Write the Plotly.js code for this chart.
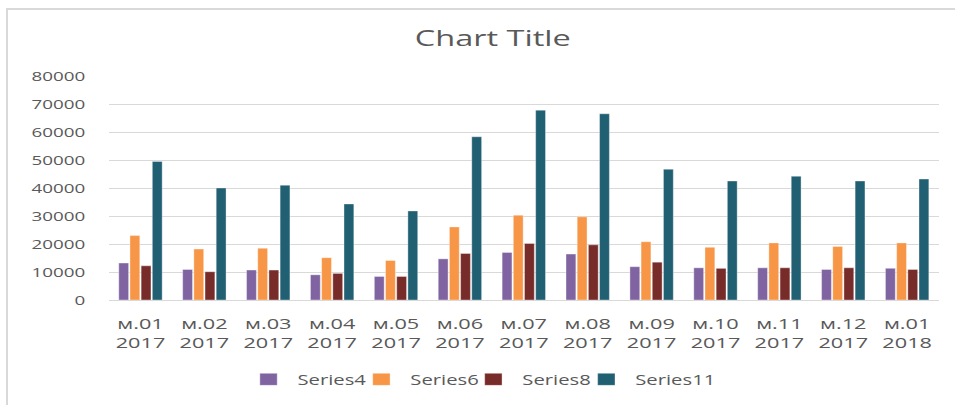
<!DOCTYPE html>
<html>
<head>
<meta charset="utf-8">
<script src="https://cdn.plot.ly/plotly-3.0.1.min.js"></script>
<style>
  html, body { margin: 0; padding: 0; background: #fff; overflow: hidden; }
  #wrap { width: 955px; height: 405px; position: absolute; left: 0; top: 0; overflow: hidden; }
  /* the reference chart is horizontally stretched; reproduce by scaling a narrower plot */
  #chart { width: 660px; height: 405px; position: absolute; left: 0; top: 0;
           transform: scaleX(1.447); transform-origin: 0 0; }
  #frame { position: absolute; left: 6px; top: 8px; width: 960px; height: 410px;
           border-left: 2px solid #d9d9d9; border-top: 2px solid #d9d9d9; pointer-events: none; }
</style>
</head>
<body>
<div id="wrap">
  <div id="chart"></div>
  <div id="frame"></div>
</div>
<script>
const categories = ["м.01<br>2017","м.02<br>2017","м.03<br>2017","м.04<br>2017","м.05<br>2017","м.06<br>2017","м.07<br>2017","м.08<br>2017","м.09<br>2017","м.10<br>2017","м.11<br>2017","м.12<br>2017","м.01<br>2018"];
const series4  = [13200, 10900, 10700, 9000, 8400, 14700, 17000, 16400, 11900, 11500, 11500, 10900, 11300];
const series6  = [23000, 18200, 18500, 15100, 14100, 26100, 30300, 29700, 20800, 18800, 20400, 19100, 20400];
const series8  = [12200, 10100, 10700, 9500, 8400, 16600, 20200, 19700, 13500, 11300, 11500, 11500, 10900];
const series11 = [49500, 40000, 41000, 34300, 31800, 58300, 67800, 66500, 46700, 42500, 44200, 42500, 43200];
const seriesNames = ["Series4", "Series6", "Series8", "Series11"];
const seriesColors = ["#8064A2", "#F79646", "#772C2A", "#215F73"];
const allSeries = [series4, series6, series8, series11];

const legendIds = ["legend", "legend2", "legend3", "legend4"];
const legendX = [0.1578, 0.2937, 0.4285, 0.5645];

const traces = allSeries.map((vals, i) => ({
  type: "bar",
  name: seriesNames[i],
  x: categories,
  y: vals,
  legend: legendIds[i],
  marker: { color: seriesColors[i], line: { color: "rgba(255,255,255,0.6)", width: 0.5 } },
  hoverinfo: "x+y+name"
}));

const layout = {
  width: 660, height: 405,
  margin: { l: 74.6, r: 11, t: 76, b: 104 },
  paper_bgcolor: "rgba(0,0,0,0)",
  plot_bgcolor: "#ffffff",
  font: { family: "Open Sans, sans-serif", color: "#595959" },
  title: { text: "Chart Title", font: { family: "Open Sans, sans-serif", size: 22.5, color: "#595959" },
           x: 0.516, xanchor: "center", y: 0.905, yanchor: "middle", yref: "container" },
  barmode: "group",
  bargap: 0.3,
  bargroupgap: 0.12,
  xaxis: {
    type: "category",
    showgrid: false,
    showline: true, linecolor: "#d9d9d9", linewidth: 1,
    ticks: "",
    tickfont: { family: "Open Sans, sans-serif", size: 15, color: "#595959" },
    ticklabelstandoff: 10
  },
  yaxis: {
    range: [0, 80000],
    dtick: 10000,
    tickformat: "d",
    showgrid: true, gridcolor: "#d9d9d9", gridwidth: 1,
    zeroline: false,
    showline: false,
    ticks: "",
    tickfont: { family: "Open Sans, sans-serif", size: 13, color: "#595959" },
    ticklabelstandoff: 15
  },
  showlegend: true
};

legendIds.forEach((id, i) => {
  layout[id] = {
    orientation: "h",
    x: legendX[i], xanchor: "left",
    y: -0.35, yanchor: "middle",
    font: { family: "Open Sans, sans-serif", size: 14, color: "#595959" },
    itemwidth: 30,
    bgcolor: "rgba(0,0,0,0)"
  };
});

Plotly.newPlot("chart", traces, layout, { displayModeBar: false, staticPlot: true });
</script>
</body>
</html>
